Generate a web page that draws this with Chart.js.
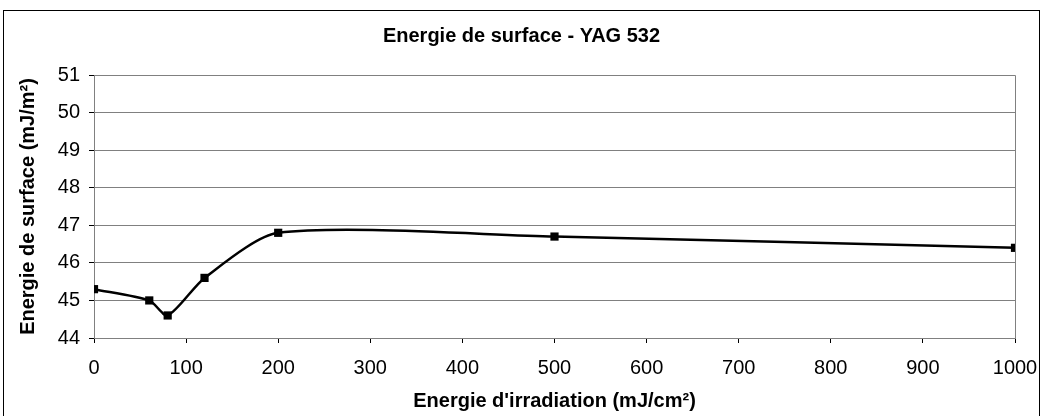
<!DOCTYPE html>
<html>
<head>
<meta charset="utf-8">
<script src="https://cdn.jsdelivr.net/npm/chart.js@4"></script>
<style>
  html, body { margin: 0; padding: 0; background: #fff; }
  #wrap { width: 1043px; height: 416px; position: relative; }
</style>
</head>
<body>
<div id="wrap"><canvas id="chart"></canvas></div>
<script>
// Data
const irradiation = [0, 60, 80, 120, 200, 500, 1000];
const surfaceEnergy = [45.3, 45.0, 44.6, 45.6, 46.8, 46.7, 46.4];
const xTicks = [0, 100, 200, 300, 400, 500, 600, 700, 800, 900, 1000];
const yTicks = [44, 45, 46, 47, 48, 49, 50, 51];

const FONT = "'Liberation Sans', Arial, sans-serif";

// Outer frame + plot area box
const frames = {
    id: 'frames',
    beforeDraw(chart) {
        const ctx = chart.ctx;
        ctx.save();
        ctx.fillStyle = '#fff';
        ctx.fillRect(0, 0, chart.width, chart.height);
        ctx.restore();
    },
    afterDraw(chart) {
        const ctx = chart.ctx;
        const a = chart.chartArea;
        ctx.save();
        ctx.strokeStyle = '#000';
        ctx.lineWidth = 1;
        ctx.strokeRect(3.5, 10.5, 1036, 420);
        ctx.strokeStyle = '#808080';
        ctx.beginPath();
        ctx.moveTo(a.left, Math.round(a.top) + 0.5);
        ctx.lineTo(Math.round(a.right) + 0.5, Math.round(a.top) + 0.5);
        ctx.lineTo(Math.round(a.right) + 0.5, a.bottom);
        ctx.stroke();
        ctx.restore();
    }
};

const points = irradiation.map((x, i) => ({ x: x, y: surfaceEnergy[i] }));

new Chart(document.getElementById('chart'), {
    type: 'line',
    data: {
        datasets: [{
            data: points,
            borderColor: '#000',
            backgroundColor: '#000',
            borderWidth: 2.5,
            tension: 0.25,
            pointStyle: 'rect',
            pointRadius: 5.8,
            pointBorderWidth: 0,
            fill: false
        }]
    },
    options: {
        responsive: true,
        maintainAspectRatio: false,
        animation: false,
        layout: { padding: 0 },
        plugins: {
            legend: { display: false },
            tooltip: { enabled: false },
            title: {
                display: true,
                text: 'Energie de surface - YAG 532',
                color: '#000',
                font: { family: FONT, size: 20, weight: 'bold' },
                padding: { top: 24, bottom: 27 }
            }
        },
        scales: {
            x: {
                type: 'linear',
                min: 0,
                max: 1000,
                afterBuildTicks: (axis) => { axis.ticks = xTicks.map(v => ({ value: v })); },
                afterFit: (axis) => {
                    axis.height = 78;
                    axis.paddingLeft = 0;
                    axis.paddingRight = 28;
                },
                grid: { drawOnChartArea: false, drawTicks: true, tickLength: 5, color: '#000' },
                border: { display: true, color: '#808080', width: 1 },
                ticks: {
                    color: '#000',
                    padding: 13,
                    maxRotation: 0,
                    font: { family: FONT, size: 20 },
                    callback: (v) => String(v)
                },
                title: {
                    display: true,
                    text: "Energie d'irradiation (mJ/cm²)",
                    color: '#000',
                    font: { family: FONT, size: 20, weight: 'bold' },
                    padding: { top: 0, bottom: 3 }
                }
            },
            y: {
                min: 44,
                max: 51,
                afterBuildTicks: (axis) => { axis.ticks = yTicks.map(v => ({ value: v })); },
                afterFit: (axis) => { axis.width = 94; },
                grid: { color: '#808080', tickLength: 5, tickColor: '#000' },
                border: { display: true, color: '#808080', width: 1 },
                ticks: {
                    color: '#000',
                    padding: 9,
                    font: { family: FONT, size: 20 },
                    callback: (v) => String(v)
                },
                title: {
                    display: true,
                    text: 'Energie de surface (mJ/m²)',
                    color: '#000',
                    font: { family: FONT, size: 20, weight: 'bold' },
                    padding: { top: 16, bottom: 0 }
                }
            },
            // empty right-hand spacer so the title stays centred on the whole frame
            spacer: {
                type: 'linear',
                position: 'right',
                afterFit: (axis) => { axis.width = 28; },
                grid: { display: false },
                border: { display: false },
                ticks: { display: false }
            }
        }
    },
    plugins: [frames]
});
</script>
</body>
</html>
